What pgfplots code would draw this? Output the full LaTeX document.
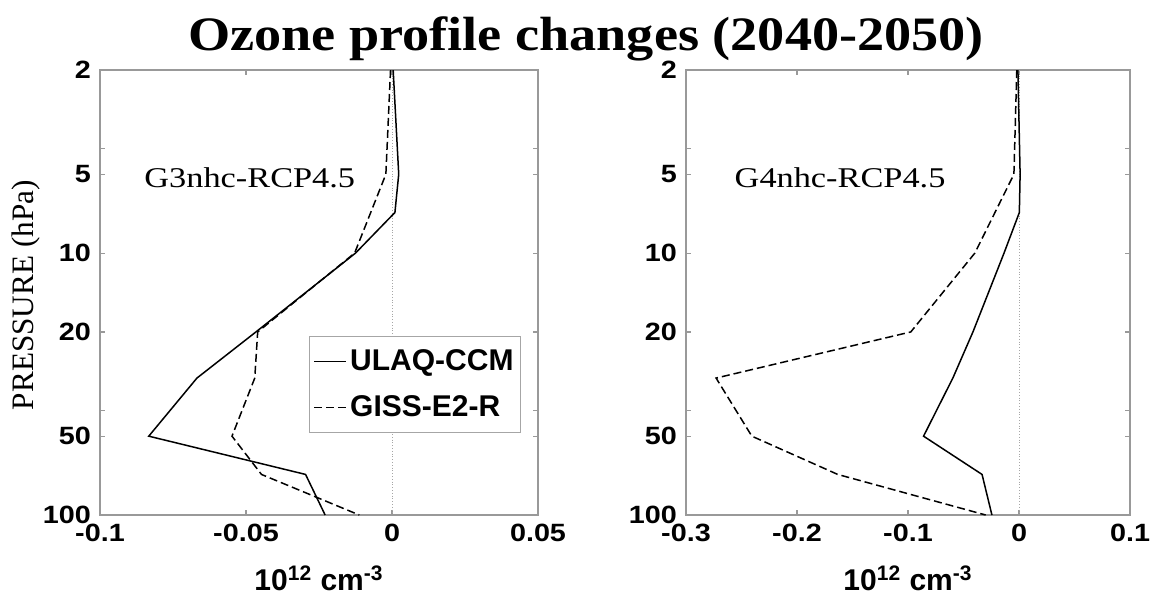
\documentclass[border=0pt]{standalone}
\usepackage{fontspec}
\setmainfont{Liberation Serif}
\setsansfont{Liberation Sans}
\newfontfamily\tickfont{Liberation Sans}[FakeStretch=1.15]
\newfontfamily\annfont{Liberation Serif}[FakeStretch=1.2]
\newfontfamily\titlefont{Liberation Serif}[FakeStretch=1.13]
\usepackage{pgfplots}
\pgfplotsset{compat=1.18}
\pgfplotsset{
  every axis/.append style={
    scale only axis,
    height=222.5pt,
    tick align=inside, xtick pos=both, ytick pos=both,
    major tick length=2.5pt,
    axis line style={gray!80, line width=0.6pt},
    tick style={gray!80, line width=0.6pt},
    /pgf/number format/assume math mode=true,
    tick label style={font=\tickfont\bfseries\fontsize{12.5}{12.5}\selectfont},
    xticklabel style={yshift=-1pt},
    yticklabel style={xshift=-1pt},
    xlabel style={at={(axis description cs:0.5,-0.142)}, anchor=center,
      font=\sffamily\bfseries\fontsize{15}{15}\selectfont},
    legend cell align=left,
  },
  legend image code/.code={\draw[#1] (0pt,0pt) -- (16pt,0pt);},
}
\tikzset{
  ulaq/.style={black, line width=0.75pt},
  giss/.style={black, line width=0.75pt, dash pattern=on 4pt off 2pt},
}
\begin{document}
\begin{tikzpicture}
\path[use as bounding box] (0pt,0pt) rectangle (577pt,301pt);
\node[anchor=base, font=\titlefont\bfseries\fontsize{24}{24}\selectfont] at (293pt,276pt) {Ozone profile changes (2040-2050)};

\begin{axis}[at={(50pt,43.5pt)}, anchor=south west, width=219pt,
  ymode=log, y dir=reverse, ymin=2, ymax=100,
  ytick={2,5,10,20,50,100}, yticklabels={2,5,10,20,50,100},
  extra y ticks={4,40}, extra y tick labels={},
  xmin=-0.1, xmax=0.05,
  xtick={-0.1,-0.05,0,0.05}, xticklabels={-0.1,-0.05,0,0.05},
  xlabel={10\textsuperscript{12} cm\textsuperscript{-3}},
  ylabel={PRESSURE (hPa)},
  ylabel style={at={(axis description cs:-0.169,0.494)}, anchor=center,
    font=\fontsize{15.6}{15.6}\selectfont},
  legend style={at={(0.961,0.402)}, anchor=north east, draw=gray!70,
    font=\sffamily\bfseries\fontsize{15}{15}\selectfont,
    inner xsep=2pt, inner ysep=5pt, row sep=8pt,
    nodes={inner sep=1.5pt}},
]
\addplot[gray!70, densely dotted, line width=0.4pt, forget plot] coordinates {(0,2) (0,100)};
\addplot[ulaq] coordinates {
(0.0004,2) (0.0023,5) (0.001,7) (-0.0125,10) (-0.0466,20) (-0.0668,30) (-0.0833,50) (-0.0296,70) (-0.0229,100)};
\addlegendentry{ULAQ-CCM}
\addplot[giss] coordinates {
(-0.0005,2) (-0.0021,5) (-0.0128,10) (-0.046,20) (-0.047,30) (-0.0548,50) (-0.0447,70) (-0.0112,100)};
\addlegendentry{GISS-E2-R}
\node[font=\annfont\fontsize{14.3}{14.3}\selectfont] at (rel axis cs:0.342,0.757) {G3nhc-RCP4.5};
\end{axis}

\begin{axis}[at={(343pt,43.5pt)}, anchor=south west, width=222pt,
  ymode=log, y dir=reverse, ymin=2, ymax=100,
  ytick={2,5,10,20,50,100}, yticklabels={2,5,10,20,50,100},
  extra y ticks={4,40}, extra y tick labels={},
  xmin=-0.3, xmax=0.1,
  xtick={-0.3,-0.2,-0.1,0,0.1}, xticklabels={-0.3,-0.2,-0.1,0,0.1},
  xlabel={10\textsuperscript{12} cm\textsuperscript{-3}},
]
\addplot[gray!70, densely dotted, line width=0.4pt, forget plot] coordinates {(0,2) (0,100)};
\addplot[ulaq] coordinates {
(-0.001,2) (0.001,5) (0.0003,7) (-0.0135,10) (-0.0415,20) (-0.0596,30) (-0.086,50) (-0.0333,70) (-0.0244,100)};
\addplot[giss] coordinates {
(-0.002,2) (-0.0046,5) (-0.0398,10) (-0.0975,20) (-0.2729,30) (-0.2407,50) (-0.1633,70) (-0.030,100)};
\node[font=\annfont\fontsize{14.3}{14.3}\selectfont] at (rel axis cs:0.347,0.757) {G4nhc-RCP4.5};
\end{axis}
\end{tikzpicture}
\end{document}
